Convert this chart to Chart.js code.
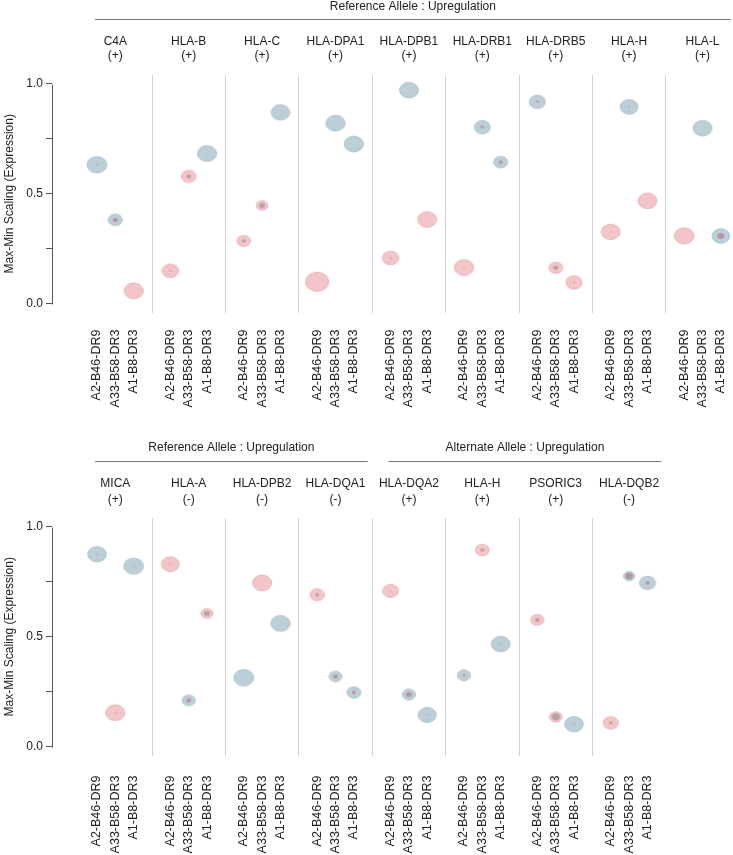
<!DOCTYPE html>
<html><head><meta charset="utf-8">
<script src="https://cdn.jsdelivr.net/npm/chart.js@4.4.0/dist/chart.umd.min.js"></script>
<style>
html,body{margin:0;padding:0;background:#fff;}
#wrap{position:relative;width:733px;height:855px;overflow:hidden;background:#fff;}
canvas{display:block;}
</style></head><body>
<div id="wrap">
<canvas id="topChart" width="733" height="420"></canvas>
<canvas id="botChart" width="733" height="435"></canvas>
</div>
<script>
// ---------- DATA ----------
const haplotypes = ['A2-B46-DR9', 'A33-B58-DR3', 'A1-B8-DR3'];

const topGenes = ['C4A', 'HLA-B', 'HLA-C', 'HLA-DPA1', 'HLA-DPB1', 'HLA-DRB1', 'HLA-DRB5', 'HLA-H', 'HLA-L'];
const topSigns = ['(+)', '(+)', '(+)', '(+)', '(+)', '(+)', '(+)', '(+)', '(+)'];
const topValues = [
  [0.632, 0.382, 0.059],
  [0.150, 0.579, 0.683],
  [0.286, 0.447, 0.870],
  [0.100, 0.821, 0.726],
  [0.208, 0.971, 0.383],
  [0.165, 0.803, 0.644],
  [0.918, 0.164, 0.097],
  [0.327, 0.895, 0.468],
  [0.309, 0.798, 0.308]
];
const topGroup = [
  ['B', 'B', 'P'], ['P', 'P', 'B'], ['P', 'P', 'B'], ['P', 'B', 'B'], ['P', 'B', 'P'],
  ['P', 'B', 'B'], ['B', 'P', 'P'], ['P', 'B', 'P'], ['P', 'B', 'B']
];
const topOuterSize = [
  [20, 14.3, 19.3], [16.7, 15, 19.3], [13.7, 11.7, 18.7], [23.3, 19.3, 19.3], [16.7, 19, 19],
  [19.3, 16.3, 14.3], [16.3, 14, 16.3], [18.7, 18, 19], [19.7, 19, 17.7]
];
const topInnerSize = [
  [1.5, 5, 0], [2, 5, 1], [4, 6, 1], [0, 0, 0], [2, 0, 0],
  [1.5, 3.5, 4], [2.5, 5, 2], [1.5, 1.5, 0], [0, 0, 7]
];
const topHeaders = ['Reference Allele : Upregulation'];

const botGenes = ['MICA', 'HLA-A', 'HLA-DPB2', 'HLA-DQA1', 'HLA-DQA2', 'HLA-H', 'PSORIC3', 'HLA-DQB2'];
const botSigns = ['(+)', '(-)', '(-)', '(-)', '(+)', '(+)', '(+)', '(-)'];
const botValues = [
  [0.875, 0.155, 0.821],
  [0.830, 0.211, 0.606],
  [0.314, 0.745, 0.561],
  [0.691, 0.320, 0.247],
  [0.709, 0.238, 0.145],
  [0.325, 0.894, 0.467],
  [0.577, 0.136, 0.103],
  [0.109, 0.776, 0.745]
];
const botGroup = [
  ['B', 'P', 'B'], ['P', 'B', 'P'], ['B', 'P', 'B'], ['P', 'B', 'B'],
  ['P', 'B', 'B'], ['B', 'P', 'B'], ['P', 'P', 'B'], ['P', 'B', 'B']
];
const botOuterSize = [
  [18.7, 19.3, 19.7], [18, 13.3, 12], [20, 19.3, 19.3], [14.7, 13, 14],
  [16, 13.3, 18.3], [13.3, 14, 19], [13.3, 12.7, 18.7], [15.3, 11.3, 16.3]
];
const botInnerSize = [
  [1.5, 1.5, 1.5], [1.5, 5, 6], [0, 0, 0], [4, 5, 4],
  [1.5, 6, 1.5], [3, 4, 1.5], [5, 8, 1.5], [3.5, 7.5, 4]
];
const botHeaders = ['Reference Allele : Upregulation', 'Alternate Allele : Upregulation'];
const botHeaderFacets = [[0, 3], [4, 7]]; // facet index ranges covered by each header

const yTicks = [0, 0.25, 0.5, 0.75, 1];

// ---------- STYLE / LAYOUT ----------
Chart.defaults.font.family = "'Liberation Sans', Arial, Helvetica, sans-serif";
Chart.defaults.color = '#222';
const X0_PX = 78.6;      // pixel of the first facet's left edge
const UNIT_PX = 18.35;   // pixels per x unit (a facet is 4 units)
const FILL = { B: '#bccfd9', P: '#f3c5c8' };
const EDGE = { B: '#a9bfcb', P: '#e5b0b3' };
const INNER = { B: '#b795a5', P: '#b9a2a4' };
const ASPECT = 0.82;
const markerCache = {};
function marker(p) {
  const key = p.g + '_' + p.s + '_' + p.k;
  if (markerCache[key]) return markerCache[key];
  const w = p.s, h = p.s * ASPECT;
  const c = document.createElement('canvas');
  c.width = Math.ceil(w / 2) * 2 + 4;
  c.height = Math.ceil(h / 2) * 2 + 4;
  const g = c.getContext('2d');
  g.beginPath();
  g.ellipse(c.width / 2, c.height / 2, w / 2, h / 2, 0, 0, Math.PI * 2);
  g.fillStyle = FILL[p.g];
  g.fill();
  g.lineWidth = 0.8;
  g.strokeStyle = EDGE[p.g];
  g.stroke();
  if (p.k > 0) {
    g.beginPath();
    g.ellipse(c.width / 2, c.height / 2, p.k / 2, p.k * 0.85 / 2, 0, 0, Math.PI * 2);
    g.fillStyle = INNER[p.g];
    g.fill();
  }
  markerCache[key] = c;
  return c;
}

function buildPoints(values, groups, outer, inner) {
  const pts = [];
  values.forEach((row, i) => row.forEach((v, j) => {
    pts.push({ x: i * 4 + j + 1, y: v, g: groups[i][j], s: outer[i][j], k: inner[i][j] });
  }));
  return pts;
}

// keep the facet grid at fixed pixel spacing whatever the chart area turns out to be
const xFit = {
  id: 'xFit',
  afterLayout(chart) {
    ['x', 'x2'].forEach((id) => {
      const s = chart.scales[id];
      s.min = (s.left - X0_PX) / UNIT_PX;
      s.max = (s.right - X0_PX) / UNIT_PX;
      s.configure();
    });
  }
};

const decor = {
  id: 'decor',
  afterDraw(chart) {
    const o = chart.options.plugins.decor;
    const ctx = chart.ctx, ys = chart.scales.y, xs = chart.scales.x;
    const ax = Math.round(chart.chartArea.left) + 0.5;
    ctx.save();
    ctx.strokeStyle = '#555';
    ctx.lineWidth = 1;
    ctx.beginPath();
    ctx.moveTo(ax, Math.round(ys.getPixelForValue(0)) + 0.5);
    ctx.lineTo(ax, Math.round(ys.getPixelForValue(1)) + 0.5);
    ctx.stroke();
    ctx.font = "12px 'Liberation Sans', Arial, sans-serif";
    ctx.fillStyle = '#222';
    ctx.textAlign = 'center';
    ctx.textBaseline = 'middle';
    o.headers.forEach((h) => {
      const x1 = xs.getPixelForValue(h.from * 4) + o.inset[0];
      const x2 = xs.getPixelForValue((h.to + 1) * 4) - o.inset[1];
      ctx.strokeStyle = '#777';
      ctx.lineWidth = 1.2;
      ctx.beginPath();
      ctx.moveTo(x1, o.lineY);
      ctx.lineTo(x2, o.lineY);
      ctx.stroke();
      ctx.fillText(h.text, (x1 + x2) / 2, o.textY);
    });
    ctx.restore();
  }
};

function noPad(s) { s.paddingLeft = 0; s.paddingRight = 0; }

function makeChart(id, cfg) {
  const nF = cfg.genes.length;
  return new Chart(document.getElementById(id), {
    type: 'scatter',
    data: {
      datasets: [{
        data: buildPoints(cfg.values, cfg.groups, cfg.outer, cfg.inner),
        pointStyle: (c) => c.raw ? marker(c.raw) : 'circle',
        pointRadius: 8,
        clip: false
      }]
    },
    plugins: [xFit, decor],
    options: {
      responsive: false,
      animation: false,
      devicePixelRatio: 1,
      layout: { padding: 0 },
      plugins: {
        legend: { display: false },
        tooltip: { enabled: false },
        decor: cfg.decor
      },
      scales: {
        x: {
          type: 'linear', position: 'bottom', min: -1.45, max: 35.66,
          afterBuildTicks: (s) => { s.ticks = Array.from({ length: nF * 4 }, (_, i) => ({ value: i })); },
          afterFit: (s) => { s.height = cfg.xAxisHeight; noPad(s); },
          ticks: {
            autoSkip: false, minRotation: 90, maxRotation: 90, padding: cfg.xLabelPad,
            font: { size: 12.5 }, color: '#222',
            callback: (v) => (v % 4 === 0 ? '' : haplotypes[v % 4 - 1])
          },
          grid: {
            drawTicks: false, lineWidth: 1,
            color: (c) => (c.tick && c.tick.value % 4 === 0 && c.tick.value > 0 && c.tick.value < nF * 4) ? '#d2d2d2' : 'rgba(0,0,0,0)'
          },
          border: { display: false }
        },
        x2: {
          type: 'linear', position: 'top', min: -1.45, max: 35.66,
          afterBuildTicks: (s) => { s.ticks = cfg.genes.map((_, i) => ({ value: i * 4 + 2 })); },
          afterFit: (s) => { s.height = cfg.chartTop; noPad(s); },
          ticks: {
            autoSkip: false, maxRotation: 0, minRotation: 0, padding: cfg.facetPad,
            font: { size: 12, lineHeight: cfg.facetLH }, color: '#222',
            callback: (v) => { const i = Math.round((v - 2) / 4); return [cfg.genes[i], cfg.signs[i]]; }
          },
          grid: { display: false, drawTicks: false },
          border: { display: false }
        },
        y: {
          type: 'linear', min: -0.04, max: 1.04,
          afterBuildTicks: (s) => { s.ticks = yTicks.map((v) => ({ value: v })); },
          afterFit: (s) => { s.width = 52; },
          ticks: {
            padding: 3, font: { size: 12 }, color: '#222',
            callback: (v) => (v === 0 || v === 0.5 || v === 1) ? v.toFixed(1) : ''
          },
          grid: { drawOnChartArea: false, drawTicks: true, tickLength: 6, color: '#555' },
          border: { display: false },
          title: {
            display: true, text: 'Max-Min Scaling (Expression)',
            font: { size: 12 }, color: '#222', padding: { top: 2, bottom: 0 }
          }
        }
      }
    }
  });
}

makeChart('topChart', {
  genes: topGenes, signs: topSigns, values: topValues, groups: topGroup,
  outer: topOuterSize, inner: topInnerSize,
  chartTop: 75, xAxisHeight: 107.4, xLabelPad: 17, facetPad: 12.5, facetLH: 1.15,
  decor: { headers: [{ text: topHeaders[0], from: 0, to: 8 }], textY: 7, lineY: 19.5, inset: [16.4, 8.4] }
});

makeChart('botChart', {
  genes: botGenes, signs: botSigns, values: botValues, groups: botGroup,
  outer: botOuterSize, inner: botInnerSize,
  chartTop: 98, xAxisHeight: 99.4, xLabelPad: 20, facetPad: 10.5, facetLH: 1.33,
  decor: {
    headers: botHeaders.map((t, i) => ({ text: t, from: botHeaderFacets[i][0], to: botHeaderFacets[i][1] })),
    textY: 28, lineY: 41.5, inset: [16.4, 4.5]
  }
});
</script>
</body></html>
